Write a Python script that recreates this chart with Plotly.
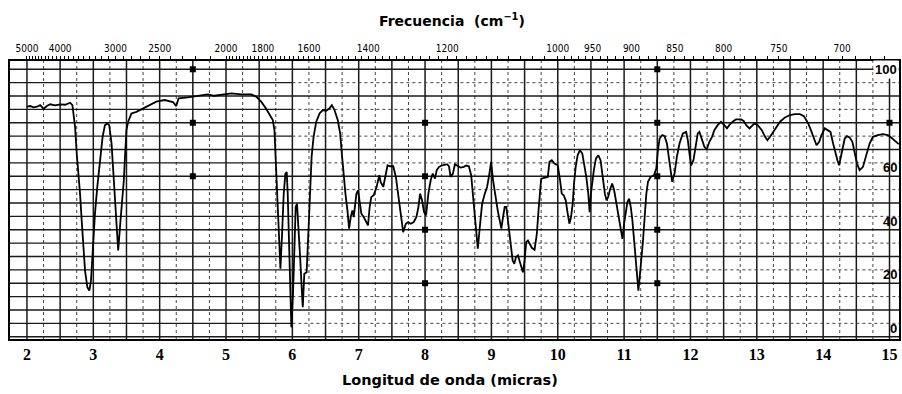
import plotly.graph_objects as go
import numpy as np

# --- Spectrum data (wavelength in microns, % transmittance) ---
wavelength_um = [
    2.0, 2.05, 2.10, 2.15, 2.20, 2.25, 2.30, 2.35, 2.425, 2.50, 2.575, 2.65, 2.685,
    2.70, 2.725, 2.75, 2.775, 2.80, 2.825, 2.85, 2.875, 2.91, 2.94, 2.965, 2.99,
    3.025, 3.06, 3.10, 3.14, 3.175, 3.21, 3.24, 3.275, 3.30, 3.325, 3.35, 3.375,
    3.41, 3.44, 3.46, 3.48, 3.50, 3.525, 3.575, 3.65, 3.75, 3.85, 3.95,
    4.075, 4.20, 4.25, 4.285, 4.425, 4.575, 4.725, 4.825, 4.925, 5.08, 5.23, 5.38,
    5.455, 5.53, 5.60, 5.655, 5.705, 5.73, 5.745, 5.76, 5.78, 5.80, 5.82, 5.845,
    5.87, 5.895, 5.915, 5.93, 5.95, 5.97, 5.985, 6.01, 6.03, 6.05, 6.07, 6.095,
    6.12, 6.145, 6.157, 6.18, 6.215, 6.245, 6.27, 6.29, 6.32, 6.36, 6.41, 6.46,
    6.51, 6.56, 6.595, 6.635, 6.685, 6.72, 6.75, 6.78, 6.80, 6.83, 6.855, 6.88,
    6.905, 6.925, 6.945, 6.965, 6.99, 7.015, 7.04, 7.075, 7.105, 7.14, 7.165, 7.19,
    7.225, 7.27, 7.31, 7.33, 7.37, 7.41, 7.435, 7.47, 7.52, 7.56, 7.595, 7.62,
    7.645, 7.67, 7.71, 7.745, 7.785, 7.83, 7.87, 7.90, 7.925, 7.955, 7.985, 8.015,
    8.05, 8.085, 8.115, 8.15, 8.175, 8.21, 8.26, 8.33, 8.36, 8.385, 8.42, 8.45,
    8.50, 8.535, 8.585, 8.62, 8.66, 8.695, 8.72, 8.75, 8.77, 8.795, 8.825, 8.86,
    8.90, 8.935, 8.97, 8.995, 9.025, 9.06, 9.095, 9.125, 9.15, 9.175, 9.20, 9.225,
    9.25, 9.275, 9.30, 9.32, 9.345, 9.37, 9.40, 9.425, 9.45, 9.475, 9.50, 9.525,
    9.55, 9.575, 9.61, 9.65, 9.685, 9.71, 9.735, 9.75, 9.81, 9.85, 9.875, 9.91,
    9.95, 10.0, 10.035, 10.06, 10.09, 10.12, 10.15, 10.175, 10.20, 10.225, 10.245,
    10.27, 10.30, 10.335, 10.37, 10.40, 10.43, 10.46, 10.48, 10.50, 10.52, 10.545,
    10.575, 10.61, 10.645, 10.67, 10.685, 10.71, 10.735, 10.76, 10.785, 10.82,
    10.85, 10.875, 10.90, 10.925, 10.95, 10.975, 11.0, 11.025, 11.05, 11.075,
    11.10, 11.125, 11.15, 11.175, 11.195, 11.215, 11.235, 11.26, 11.285, 11.31,
    11.335, 11.36, 11.40, 11.45, 11.485, 11.51, 11.535, 11.575, 11.61, 11.645,
    11.67, 11.70, 11.725, 11.76, 11.795, 11.835, 11.885, 11.935, 11.96, 11.985,
    12.01, 12.045, 12.075, 12.11, 12.135, 12.17, 12.21, 12.245, 12.285, 12.325,
    12.36, 12.41, 12.46, 12.51, 12.55, 12.585, 12.635, 12.685, 12.765, 12.805,
    12.84, 12.89, 12.93, 12.965, 13.015, 13.075, 13.125, 13.16, 13.20, 13.25,
    13.30, 13.35, 13.425, 13.50, 13.575, 13.65, 13.71, 13.775, 13.825, 13.875,
    13.90, 13.94, 13.975, 14.025, 14.075, 14.11, 14.15, 14.185, 14.215, 14.24,
    14.275, 14.325, 14.36, 14.40, 14.44, 14.475, 14.51, 14.55, 14.60, 14.65,
    14.70, 14.75, 14.825, 14.90, 14.975, 15.025, 15.075, 15.14,
]
transmittance = [
    86.0, 86.25, 85.75, 86.0, 86.6, 85.25, 86.25, 86.9, 86.5, 86.9, 86.75, 87.5, 86.6,
    83.5, 78.5, 68.5, 62.25, 53.5, 43.5, 33.5, 24.75, 18.5, 17.25, 21, 33.5,
    46, 56, 66, 74.75, 79.1, 79.75, 79.1, 72.25, 62.25, 51, 41, 32.25,
    43.5, 51, 58.5, 68.5, 77.25, 80.4, 83.5, 84.1, 85.4, 86.6, 87.9,
    88.5, 87.75, 86.25, 89.1, 89.5, 90, 90.6, 90.1, 90.4, 91, 90.6, 90.6,
    89.75, 87.9, 85.4, 82.9, 81, 77.25, 68.5, 58.5, 47.25, 34.75, 25.4, 38.5,
    53.5, 61, 61.6, 53.5, 34.75, 16, 3.5, 16, 33.5, 48.5, 49.75, 41,
    28.5, 16, 11, 23.5, 24.1, 41, 56, 67.25, 74.75, 80.4, 83.5, 84.75,
    84.5, 85.4, 86.6, 84.75, 81, 76, 67.25, 58.5, 53.5, 47.25, 40.4, 44.75,
    47.25, 44.75, 48.5, 53.5, 54.75, 49.75, 46, 44.75, 43.5, 41.6, 48.5, 52.25,
    52.9, 56, 60.4, 57.9, 56, 61, 64.1, 63.75, 63.75, 59.75, 53.5, 48.5,
    43.5, 39.1, 42.25, 42.9, 42.25, 42.9, 44.75, 48.5, 53.5, 51, 46.6, 45.4,
    53.5, 58.5, 61, 59.1, 62.25, 63.5, 64.1, 64.5, 63.75, 59.75, 61, 64.5,
    63.75, 63.25, 63.5, 64, 63.75, 60.4, 53.5, 44.75, 38.5, 32.9, 41, 49.75,
    53.5, 56, 61, 65.4, 58.5, 52.25, 47.25, 43.5, 40.4, 44.75, 48.5, 48.5,
    43.5, 38.5, 33.5, 28.5, 27.25, 29.75, 30.4, 28.5, 26, 24.1, 28.5, 35.4,
    36, 34.75, 33.25, 32.5, 38.5, 47.25, 54.75, 59.1, 59.5, 59.75, 65.4, 66,
    64.75, 64.1, 58.5, 53.5, 52.9, 51, 46, 42.25, 44.75, 49.75, 57.25,
    63.5, 67.9, 69.75, 68.5, 64.75, 59.75, 53.5, 46.6, 53.5, 58.5, 62.5,
    66.6, 67.9, 66, 61, 57.25, 53.5, 51, 52.25, 54.75, 57.25,
    54.75, 51, 48.5, 44.75, 39.75, 36.6, 42.25, 47.25, 50.4, 51.6,
    48.5, 43.5, 36, 28.5, 22.25, 17.25, 22.25, 28.5, 36, 44.75,
    53.5, 57.9, 59.75, 60.4, 62.9, 69.75, 74.1, 75.4, 75, 72.25,
    67.25, 62.25, 57.9, 61, 67.25, 72.25, 76, 76.6, 73.5, 68.5,
    64.1, 66, 71, 76, 76.6, 73.5, 71, 70, 72.9, 74.75,
    77.25, 79.1, 80.4, 79.1, 77.9, 79.1, 80.4, 81.25, 81.25, 80.6,
    79.1, 77.9, 79.1, 79.75, 79.1, 77.25, 74.75, 73.5, 74.75, 76.6,
    78.5, 80.4, 82, 82.9, 83.25, 83.25, 82.5, 79.75, 76.6, 72.9,
    71.6, 72.9, 75.4, 77.9, 77.25, 76.6, 72.25, 68.5, 66, 64.1,
    68.5, 74.1, 75, 74.5, 72.9, 68.5, 64.75, 62.25, 63.5, 67.9,
    72.25, 74.75, 75.4, 75.75, 75.4, 74.5, 73.5, 72,
]

# --- Axis labels ---
micron_ticks = list(range(2, 16))
wavenumber_labels = [5000, 4000, 3000, 2500, 2000, 1800, 1600, 1400, 1200,
                     1000, 950, 900, 850, 800, 750, 700]
wavenumber_minor = (list(range(5000, 2000, -100)) + list(range(2000, 1000, -20))
                    + list(range(1000, 660, -10)))
right_labels = [100, 60, 40, 20, 0]

# chart marker squares on the reference lines
mark_x = [4.5, 4.5, 4.5, 8, 8, 8, 8, 11.5, 11.5, 11.5, 11.5, 11.5, 15]
mark_y = [100, 80, 60, 80, 60, 40, 20, 100, 80, 60, 40, 20, 80]

XMIN, XMAX = 1.7444, 15.143
YMIN, YMAX = -0.86, 103.1

fig = go.Figure()

# grid as shapes
shapes = []
dark = "#1a1a1a"
for v in np.arange(2.0, 15.01, 0.5):
    shapes.append(dict(type="line", xref="x", yref="paper", x0=v, x1=v, y0=0, y1=1,
                       line=dict(color=dark, width=1.5), layer="below"))
for v in np.arange(2.25, 15.0, 0.5):
    shapes.append(dict(type="line", xref="x", yref="paper", x0=v, x1=v, y0=0, y1=1,
                       line=dict(color="#444", width=1, dash="dot"), layer="below"))
for t in range(0, 101, 10):
    shapes.append(dict(type="line", xref="paper", yref="y", x0=0, x1=1, y0=t, y1=t,
                       line=dict(color=dark, width=1.5), layer="below"))
for t in range(5, 100, 10):
    shapes.append(dict(type="line", xref="x", yref="y", x0=XMIN, x1=6.0, y0=t, y1=t,
                       line=dict(color=dark, width=1.3), layer="below"))
    shapes.append(dict(type="line", xref="x", yref="y", x0=6.0, x1=XMAX, y0=t, y1=t,
                       line=dict(color="#444", width=1, dash="dot"), layer="below"))

fig.add_trace(go.Scatter(x=wavelength_um, y=transmittance, mode="lines",
                         line=dict(color="#000", width=1.8), hoverinfo="skip",
                         showlegend=False))
fig.add_trace(go.Scatter(x=mark_x, y=mark_y, mode="markers",
                         marker=dict(symbol="square", size=6, color="#000"),
                         hoverinfo="skip", showlegend=False))
# dummy trace for top axis
fig.add_trace(go.Scatter(x=[XMIN], y=[YMIN], xaxis="x2", mode="markers",
                         marker=dict(opacity=0), hoverinfo="skip", showlegend=False))

top_vals = [1e4 / w for w in wavenumber_minor]
top_text = [str(w) if w in wavenumber_labels else "" for w in wavenumber_minor]
for w in wavenumber_labels:
    if w not in wavenumber_minor:
        top_vals.append(1e4 / w)
        top_text.append(str(w))

annotations = []
for r in right_labels:
    ann = dict(x=XMAX, y=r, xref="x", yref="y", text=f"<b>{r}</b>",
               showarrow=False, xanchor="right",
               yanchor="middle" if r == 100 else "bottom",
               yshift=0 if r == 100 else -1,
               font=dict(family="Liberation Sans, Arial", size=13, color="#000"))
    if r == 100:
        ann["bgcolor"] = "white"
    annotations.append(ann)
annotations.append(dict(x=0.497, y=1 + 41 / 278, xref="paper", yref="paper",
                        text="<b>Frecuencia  (cm<sup>−1</sup>)</b>", showarrow=False,
                        xanchor="center", yanchor="middle",
                        font=dict(family="DejaVu Sans, Verdana", size=14, color="#000")))
annotations.append(dict(x=0.495, y=-41 / 278, xref="paper", yref="paper",
                        text="<b>Longitud de onda (micras)</b>", showarrow=False,
                        xanchor="center", yanchor="middle",
                        font=dict(family="DejaVu Sans, Verdana", size=14.5, color="#000")))

fig.update_layout(
    width=902, height=394,
    margin=dict(l=10, r=1, t=61, b=55),
    paper_bgcolor="white", plot_bgcolor="white",
    shapes=shapes, annotations=annotations,
    xaxis=dict(range=[XMIN, XMAX], tickmode="array", tickvals=micron_ticks,
               ticktext=[str(v) for v in micron_ticks], showgrid=False, zeroline=False,
               showline=True, linecolor="#000", linewidth=2, ticks="", tickangle=0,
               tickfont=dict(family="Liberation Serif, Times New Roman", size=16,
                             color="#000", weight="bold")),
    xaxis2=dict(range=[XMIN, XMAX], overlaying="x", side="top", tickmode="array",
                tickvals=top_vals, ticktext=top_text, showgrid=False, zeroline=False,
                showline=True, linecolor="#000", linewidth=1.5, ticks="outside",
                ticklen=3, tickwidth=1, tickcolor="#000", tickangle=0,
                tickfont=dict(family="DejaVu Sans Condensed, Liberation Sans Narrow, Arial",
                              size=10, color="#000")),
    yaxis=dict(range=[YMIN, YMAX], showgrid=False, zeroline=False, showline=True,
               mirror=True, linecolor="#000", linewidth=1.5, showticklabels=False,
               ticks=""),
)

fig.write_html("out.html")
